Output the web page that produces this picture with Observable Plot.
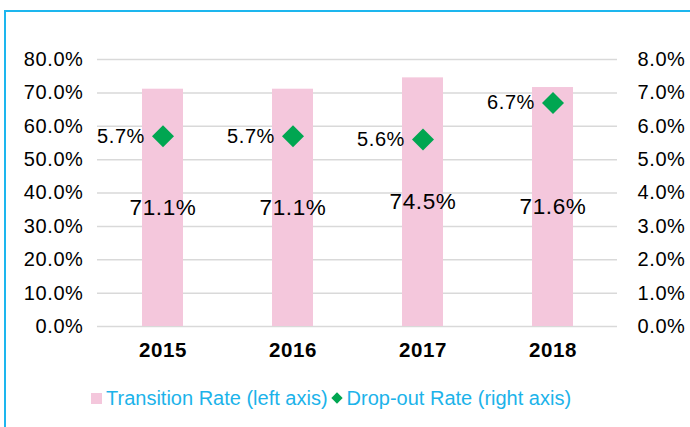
<!DOCTYPE html>
<html>
<head>
<meta charset="utf-8">
<script src="https://cdn.jsdelivr.net/npm/d3@7"></script>
<script src="https://cdn.jsdelivr.net/npm/@observablehq/plot@0.6"></script>
<style>
  html, body { margin: 0; padding: 0; background: #fff; }
  body { width: 690px; height: 427px; position: relative; overflow: hidden; font-family: "Liberation Sans", Arial, sans-serif; }
  #frame { position: absolute; left: 4px; top: 10px; width: 720px; height: 440px; border-top: 2px solid #1db6ee; border-left: 2px solid #1db6ee; box-sizing: border-box; }
  #chart { position: absolute; left: 0; top: 0; }
  #chart svg text { letter-spacing: 0.6px; }
  #legend { position: absolute; left: 91px; top: 386px; display: flex; align-items: center; height: 24px; font-size: 20px; color: #1cb3ea; white-space: nowrap; }
  #legend .sw { width: 11px; height: 11px; background: #f4c7dc; margin-right: 4px; }
  #legend .dm { width: 8px; height: 8px; background: #00a651; transform: rotate(45deg); margin: 0 6px 0 5px; }
</style>
</head>
<body>
<div id="frame"></div>
<div id="chart"></div>
<div id="legend"><span class="sw"></span><span>Transition Rate (left axis)</span><span class="dm"></span><span>Drop-out Rate (right axis)</span></div>
<script>
const years = ["2015", "2016", "2017", "2018"];
const transitionRate = [0.711, 0.711, 0.745, 0.716];
const dropoutRate = [0.057, 0.057, 0.056, 0.067];
const leftTicks = [0, 0.1, 0.2, 0.3, 0.4, 0.5, 0.6, 0.7, 0.8];
const leftTickLabels = ["0.0%", "10.0%", "20.0%", "30.0%", "40.0%", "50.0%", "60.0%", "70.0%", "80.0%"];
const rightTickLabels = ["0.0%", "1.0%", "2.0%", "3.0%", "4.0%", "5.0%", "6.0%", "7.0%", "8.0%"];
const axisRatio = 10; // right axis max 8% vs left 80%

const data = years.map((y, i) => ({
  year: y,
  transition: transitionRate[i],
  dropout: dropoutRate[i],
  dropoutScaled: dropoutRate[i] * axisRatio
}));
const fmt = d3.format(".1%");

const chart = Plot.plot({
  width: 690,
  height: 370,
  marginTop: 59,
  marginBottom: 44,
  marginLeft: 97,
  marginRight: 73,
  style: { fontFamily: "'Liberation Sans', Arial, sans-serif", color: "#000", background: "transparent", overflow: "visible" },
  x: { domain: years, paddingInner: 0.685, paddingOuter: 0.3425 },
  y: { domain: [0, 0.8] },
  marks: [
    Plot.gridY(leftTicks, { stroke: "#d9d9d9", strokeOpacity: 1, strokeWidth: 1.5 }),
    Plot.barY(data, { x: "year", y: "transition", fill: "#f4c7dc" }),
    Plot.axisY({ ticks: leftTicks, anchor: "left", tickSize: 0, tickPadding: 14, tickFormat: (d, i) => leftTickLabels[i], fontSize: 20, label: null }),
    Plot.axisY({ ticks: leftTicks, anchor: "right", tickSize: 0, tickPadding: 20, tickFormat: (d, i) => rightTickLabels[i], fontSize: 20, label: null }),
    Plot.axisX({ tickSize: 0, tickPadding: 16, fontSize: 20.5, fontWeight: "bold", label: null }),
    Plot.text(data, { x: "year", y: d => d.transition / 2, text: d => fmt(d.transition), fontSize: 22.5, fill: "#000" }),
    Plot.dot(data, { x: "year", y: "dropoutScaled", symbol: "diamond2", r: 9.9, fill: "#00a651", stroke: null }),
    Plot.text(data, { x: "year", y: "dropoutScaled", text: d => fmt(d.dropout), textAnchor: "end", dx: -18, fontSize: 20, fill: "#000" })
  ]
});
document.getElementById("chart").appendChild(chart);
</script>
</body>
</html>
